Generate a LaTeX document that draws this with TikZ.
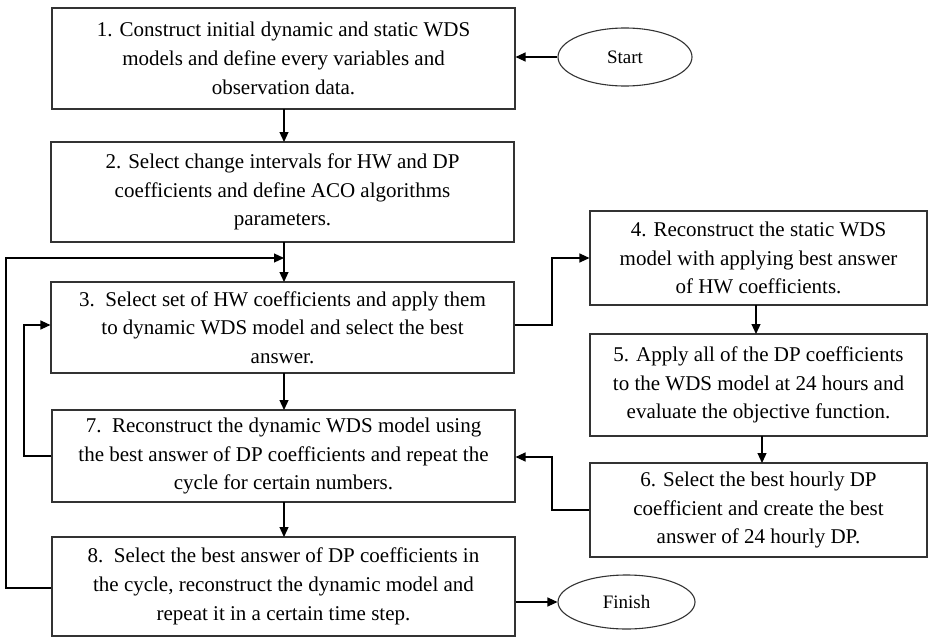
\documentclass[tikz,border=0pt]{standalone}
\usepackage{fontspec}
\setmainfont{Liberation Serif}
\usetikzlibrary{arrows.meta,shapes.geometric}
\begin{document}
\begin{tikzpicture}[x=1pt,y=-1pt,
  box/.style={draw=black!80,line width=1.1pt,rectangle,align=center,inner sep=0pt,
    font=\fontsize{21}{28.7}\selectfont},
  term/.style={draw=black!80,line width=1.1pt,ellipse,inner sep=0pt,
    font=\fontsize{19}{23}\selectfont},
  arr/.style={draw=black,line width=1.2pt,-{Triangle[length=10pt,width=9pt]}}]
\useasboundingbox (0,0) rectangle (928,637);
\node[box,minimum width=463pt,minimum height=101pt] (b1) at (283.5,58.5)
  {1. Construct initial dynamic and static WDS\\models and define every variables and\\observation data.};
\node[box,minimum width=463pt,minimum height=100pt] (b2) at (282.5,192)
  {2. Select change intervals for HW and DP\\coefficients and define ACO algorithms\\parameters.};
\node[box,minimum width=463pt,minimum height=91pt] (b3) at (282.5,327.5)
  {3.\ \ Select set of HW coefficients and apply them\\to dynamic WDS model and select the best\\answer.};
\node[box,minimum width=463pt,minimum height=92pt] (b7) at (283.5,456)
  {7.\ \ Reconstruct the dynamic WDS model using\\the best answer of DP coefficients and repeat the\\cycle for certain numbers.};
\node[box,minimum width=463pt,minimum height=99pt] (b8) at (283.5,586.5)
  {8.\ \ Select the best answer of DP coefficients in\\the cycle, reconstruct the dynamic model and\\repeat it in a certain time step.};
\node[box,minimum width=337pt,minimum height=94pt] (b4) at (758.5,258)
  {4. Reconstruct the static WDS\\model with applying best answer\\of HW coefficients.};
\node[box,minimum width=337pt,minimum height=102pt] (b5) at (758.5,385)
  {5. Apply all of the DP coefficients\\to the WDS model at 24 hours and\\evaluate the objective function.};
\node[box,minimum width=337pt,minimum height=94pt] (b6) at (758.5,510)
  {6. Select the best hourly DP\\coefficient and create the best\\answer of 24 hourly DP.};
\node[term,minimum width=134pt,minimum height=58pt] (start) at (625,57) {Start};
\node[term,minimum width=137pt,minimum height=54pt] (finish) at (626.5,602) {Finish};
\coordinate (j1) at (284,258);
% connectors
\draw[arr] (start.west) -- (start.west -| b1.east);
\draw[arr] (284,109) -- (284,142);
\draw[arr] (284,242) -- (284,282);
\draw[arr] (b8.west |- 0,588) -- (6,588) -- (6,258) -- (j1);
\draw[arr] (b7.west) -- (24,456) -- (24,325) -- (b3.west |- 0,325);
\draw[arr] (b3.east |- 0,325) -- (552,325) -- (552,258) -- (b4.west);
\draw[arr] (756,305) -- (756,334);
\draw[arr] (762,436) -- (762,463);
\draw[arr] (b6.west) -- (552,510) -- (552,457) -- (b7.east |- 0,457);
\draw[arr] (284,373) -- (284,410);
\draw[arr] (284,502) -- (284,537);
\draw[arr] (b8.east |- finish.west) -- (finish.west);
\end{tikzpicture}
\end{document}
